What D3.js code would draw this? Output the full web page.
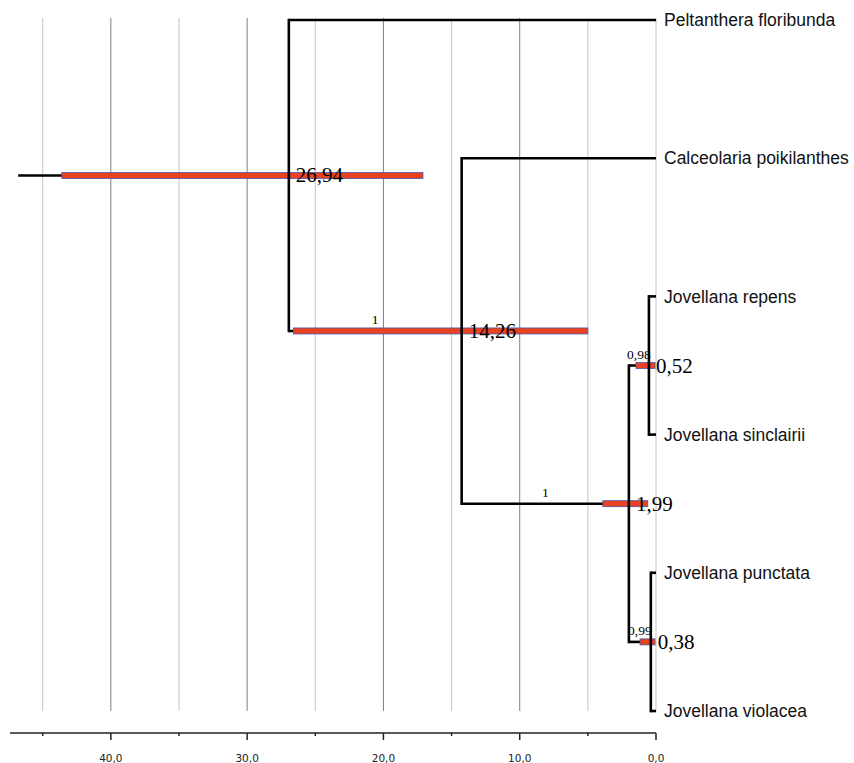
<!DOCTYPE html>
<html>
<head>
<meta charset="utf-8">
<script src="https://cdn.jsdelivr.net/npm/d3@7"></script>
<style>
  body { margin: 0; background: #fff; }
  svg { display: block; }
</style>
</head>
<body>
<svg id="tree" width="854" height="763"></svg>
<script>
// --- Data ---
const taxa = ["Peltanthera floribunda", "Calceolaria poikilanthes", "Jovellana repens",
              "Jovellana sinclairii", "Jovellana punctata", "Jovellana violacea"];

// internal nodes (children are taxa names or node ids)
const nodeIds   = ["n1", "n2", "n3", "n4", "n5"];
const nodeKids  = [["Peltanthera floribunda", "n2"], ["Calceolaria poikilanthes", "n3"],
                   ["n4", "n5"], ["Jovellana repens", "Jovellana sinclairii"],
                   ["Jovellana punctata", "Jovellana violacea"]];
const nodeAges  = [26.94, 14.26, 1.99, 0.52, 0.38];
const hpdHigh   = [43.6, 26.6, 3.9, 1.47, 1.17];
const hpdLow    = [17.1, 5.0, 0.6, 0.07, 0.07];
const posterior = [null, "1", "1", "0,98", "0,99"];
const rootStemAge = 46.8;

const tickMajor = [40, 30, 20, 10, 0];
const tickMinor = [45, 35, 25, 15, 5];

// --- Layout ---
const svg = d3.select("#tree");
const x = d3.scaleLinear().domain([47.4, 0]).range([10, 656]);
const yTip = d3.scalePoint().domain(taxa).range([20, 711]);
const plotTop = 18, plotBottom = 711, axisY = 733;

// build hierarchy
const byId = {};
nodeIds.forEach((id, i) => byId[id] = i);
function build(name) {
    if (byId[name] === undefined) return { name: name, age: 0 };
    const i = byId[name];
    return { name: name, age: nodeAges[i], idx: i, children: nodeKids[i].map(build) };
}
const root = d3.hierarchy(build("n1"));
root.eachAfter(d => {
    d.py = d.children ? (d.children[0].py + d.children[d.children.length - 1].py) / 2 : yTip(d.data.name);
    d.px = x(d.data.age);
});

// --- Gridlines ---
svg.append("g").selectAll("line")
    .data(tickMinor.concat([0]))
    .join("line")
    .attr("x1", d => x(d)).attr("x2", d => x(d))
    .attr("y1", plotTop).attr("y2", plotBottom)
    .attr("stroke", "#c4c4c4").attr("stroke-width", 1);
svg.append("g").selectAll("line")
    .data(tickMajor.filter(d => d > 0))
    .join("line")
    .attr("x1", d => x(d)).attr("x2", d => x(d))
    .attr("y1", plotTop).attr("y2", plotBottom)
    .attr("stroke", "#808080").attr("stroke-width", 1);

// --- Axis ---
const axis = svg.append("g").attr("transform", `translate(0,${axisY})`);
axis.append("line").attr("x1", 10).attr("x2", x(0)).attr("stroke", "#222").attr("stroke-width", 1.5);
axis.selectAll(".maj").data(tickMajor).join("line")
    .attr("x1", d => x(d)).attr("x2", d => x(d)).attr("y1", 0).attr("y2", 7)
    .attr("stroke", "#222").attr("stroke-width", 1.5);
axis.selectAll(".min").data(tickMinor).join("line")
    .attr("x1", d => x(d)).attr("x2", d => x(d)).attr("y1", 0).attr("y2", 3)
    .attr("stroke", "#222").attr("stroke-width", 1.5);
axis.selectAll("text").data(tickMajor).join("text")
    .attr("x", d => x(d)).attr("y", 29)
    .attr("text-anchor", "middle")
    .style("font-family", "DejaVu Sans").style("font-size", "10.5px").attr("fill", "#222")
    .text(d => d.toFixed(1).replace(".", ","));

// --- Branches (horizontal) ---
const treeG = svg.append("g").attr("fill", "none").attr("stroke", "#000").attr("stroke-width", 2.6);
treeG.append("line")
    .attr("x1", x(rootStemAge)).attr("x2", root.px)
    .attr("y1", root.py).attr("y2", root.py);
treeG.selectAll(".h").data(root.descendants().filter(d => d.parent)).join("line")
    .attr("x1", d => d.parent.px).attr("x2", d => d.px)
    .attr("y1", d => d.py).attr("y2", d => d.py);

// --- HPD bars ---
const internals = root.descendants().filter(d => d.children);
svg.append("g").selectAll("rect").data(internals).join("rect")
    .attr("x", d => x(hpdHigh[d.data.idx]))
    .attr("width", d => x(hpdLow[d.data.idx]) - x(hpdHigh[d.data.idx]))
    .attr("y", d => d.py - 3).attr("height", 6)
    .attr("fill", "#ea4220").attr("stroke", "#4a56a8").attr("stroke-width", 0.8);

// --- Branches (vertical) ---
const treeV = svg.append("g").attr("fill", "none").attr("stroke", "#000").attr("stroke-width", 2.6)
    .attr("stroke-linecap", "square");
treeV.selectAll("line").data(internals).join("line")
    .attr("x1", d => d.px).attr("x2", d => d.px)
    .attr("y1", d => d.children[0].py).attr("y2", d => d.children[d.children.length - 1].py);

// --- Tip labels ---
svg.append("g").selectAll("text").data(root.leaves()).join("text")
    .attr("x", d => d.px + 8).attr("y", d => d.py)
    .attr("dy", "0.35em")
    .style("font-family", "Liberation Sans, Arial, sans-serif").style("font-size", "17.5px")
    .attr("fill", "#111")
    .text(d => d.data.name);

// --- Node ages ---
svg.append("g").selectAll("text").data(internals).join("text")
    .attr("x", d => d.px + 7).attr("y", d => d.py + 7)
    .style("font-family", "Liberation Serif, Times New Roman, serif").style("font-size", "21px")
    .attr("fill", "#000")
    .text(d => d.data.age.toFixed(2).replace(".", ","));

// --- Posterior support ---
svg.append("g").selectAll("text").data(internals.filter(d => posterior[d.data.idx])).join("text")
    .attr("x", d => (d.parent.px + d.px) / 2).attr("y", d => d.py - 7)
    .attr("text-anchor", "middle")
    .style("font-family", "Liberation Serif, Times New Roman, serif").style("font-size", "13.5px")
    .attr("fill", "#000")
    .text(d => posterior[d.data.idx]);
</script>
</body>
</html>
